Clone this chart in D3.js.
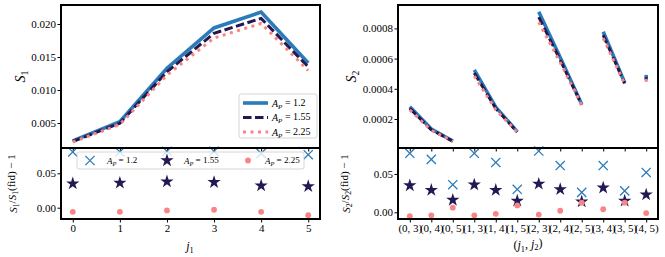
<!DOCTYPE html>
<html>
<head>
<meta charset="utf-8">
<script src="https://cdn.jsdelivr.net/npm/d3@7"></script>
<style>
  body { margin: 0; background: #fff; }
  svg text { font-family: "Liberation Serif", "DejaVu Serif", serif; fill: #000; }
</style>
</head>
<body>
<div id="stage"></div>
<script>
// ---- data ----
var j1_ticks = [0, 1, 2, 3, 4, 5];
var s1_ap120 = [0.00230, 0.00520, 0.01330, 0.01940, 0.02180, 0.01410];
var s1_ap155 = [0.00220, 0.00498, 0.01276, 0.01859, 0.02085, 0.01350];
var s1_ap225 = [0.00212, 0.00478, 0.01225, 0.01788, 0.02008, 0.01295];
var r1_ap120 = [0.081, 0.081, 0.082, 0.082, 0.079, 0.077];
var r1_ap155 = [0.035, 0.036, 0.038, 0.037, 0.032, 0.031];
var r1_ap225 = [-0.006, -0.006, -0.004, -0.003, -0.006, -0.011];

var pair_labels = ["(0, 3)", "(0, 4)", "(0, 5)", "(1, 3)", "(1, 4)", "(1, 5)",
                   "(2, 3)", "(2, 4)", "(2, 5)", "(3, 4)", "(3, 5)", "(4, 5)"];
var pair_j1 = [0, 0, 0, 1, 1, 1, 2, 2, 2, 3, 3, 4];
var s2_ap120 = [0.000281, 0.000134, 0.0000543, 0.000525, 0.000279, 0.000116,
                0.000910, 0.000608, 0.000297, 0.000778, 0.000440, 0.000480];
var s2_ap155 = [0.000270, 0.000129, 0.0000533, 0.000505, 0.000270, 0.000114,
                0.000875, 0.000590, 0.000294, 0.000756, 0.000435, 0.000467];
var s2_ap225 = [0.000260, 0.000125, 0.0000527, 0.000485, 0.000261, 0.000114,
                0.000841, 0.000574, 0.000293, 0.000736, 0.000433, 0.000456];
var r2_ap120 = [0.077, 0.069, 0.036, 0.077, 0.065, 0.030, 0.080, 0.061, 0.026, 0.061, 0.028, 0.052];
var r2_ap155 = [0.035, 0.029, 0.016, 0.036, 0.029, 0.015, 0.037, 0.030, 0.014, 0.032, 0.015, 0.023];
var r2_ap225 = [-0.005, -0.004, 0.006, -0.004, -0.002, 0.009, -0.003, 0.002, 0.0125, 0.004, 0.0125, -0.001];

var ap_labels = ["1.2", "1.55", "2.25"];

var s1_ticks = [0.005, 0.010, 0.015, 0.020];
var s2_ticks = [0.0002, 0.0004, 0.0006, 0.0008];
var ratio_ticks = [0.00, 0.05];

// ---- styles ----
var col_blue = "#2b7bba", col_navy = "#211a52", col_pink = "#fa8484";
var line_styles = [
  { color: col_blue, width: 3.6, dash: null },
  { color: col_navy, width: 3, dash: "8.5,3.5" },
  { color: col_pink, width: 3, dash: "3,4.5" }
];
var font_tick = 11;

var svg = d3.select("#stage").append("svg").attr("width", 665).attr("height", 257);

// panel boxes (pixels)
var L = { x0: 61, x1: 320, top: 5, mid: 148, bot: 219 };
var R = { x0: 398, x1: 658, top: 5, mid: 148, bot: 219 };

// scales
var xL = d3.scaleLinear().domain([-0.25, 5.25]).range([L.x0, L.x1]);
var yL1 = d3.scaleLinear().domain([0.001212, 0.022879]).range([L.mid, L.top]);
var yL2 = d3.scaleLinear().domain([-0.01642, 0.08677]).range([L.bot, L.mid]);
var xR = d3.scaleLinear().domain([-0.55, 11.55]).range([R.x0, R.x1]);
var yR1 = d3.scaleLinear().domain([0.0000079, 0.000955]).range([R.mid, R.top]);
var yR2 = d3.scaleLinear().domain([-0.00875, 0.0839]).range([R.bot, R.mid]);

// mathtext-ish helper: parts = [{t, i, sub}]
function math(text, parts) {
  var shifted = false;
  parts.forEach(function(p) {
    var ts = text.append("tspan").text(p.t);
    if (p.i) ts.style("font-style", "italic");
    if (p.sub && !shifted) { ts.attr("dy", "0.3em"); shifted = true; }
    if (!p.sub && shifted) { ts.attr("dy", "-0.3em"); shifted = false; }
    if (p.sub) ts.attr("font-size", "70%");
  });
}

function style_axis(g, fs) {
  g.select(".domain").remove();
  g.selectAll(".tick line").attr("stroke", "#000").attr("stroke-width", 1);
  g.selectAll(".tick text").attr("font-size", fs).attr("font-family", "Liberation Serif, serif");
}

function cross_path(r) {
  return "M" + (-r) + "," + (-r) + "L" + r + "," + r + "M" + (-r) + "," + r + "L" + r + "," + (-r);
}

// ---------- left top: S1 ----------
var gL = svg.append("g");
var lineL = d3.line().x(function(d) { return xL(d.x); }).y(function(d) { return yL1(d.y); });
[s1_ap120, s1_ap155, s1_ap225].forEach(function(arr, k) {
  var st = line_styles[k];
  gL.append("path")
    .datum(arr.map(function(v, i) { return { x: j1_ticks[i], y: v }; }))
    .attr("d", lineL)
    .attr("fill", "none")
    .attr("stroke", st.color)
    .attr("stroke-width", st.width)
    .attr("stroke-dasharray", st.dash);
});
gL.append("g").attr("transform", "translate(" + L.x0 + ",0)")
  .call(d3.axisLeft(yL1).tickValues(s1_ticks).tickFormat(d3.format(".3f")).tickSize(3.5).tickPadding(1.5))
  .call(style_axis, font_tick);
gL.append("g").attr("transform", "translate(0," + L.mid + ")")
  .call(d3.axisBottom(xL).tickValues(j1_ticks).tickFormat("").tickSize(3.5))
  .call(style_axis, font_tick);

// legend (top left)
var lg1 = svg.append("g");
lg1.append("rect").attr("x", 239).attr("y", 94).attr("width", 78).attr("height", 44).attr("rx", 2)
  .attr("fill", "#fff").attr("fill-opacity", 0.8).attr("stroke", "#ccc").attr("stroke-width", 0.8);
ap_labels.forEach(function(lab, k) {
  var yy = 103 + k * 14.5, st = line_styles[k];
  lg1.append("line").attr("x1", 243).attr("x2", 268).attr("y1", yy).attr("y2", yy)
    .attr("stroke", st.color).attr("stroke-width", st.width).attr("stroke-dasharray", st.dash);
  var t = lg1.append("text").attr("x", 272).attr("y", yy + 3.5).attr("font-size", 10);
  math(t, [{ t: "A", i: true }, { t: "P", i: true, sub: true }, { t: " = " + lab }]);
});

// ---------- left bottom: ratio ----------
var gL2 = svg.append("g");
var starSym = d3.symbol().type(d3.symbolStar).size(55);
function draw_markers(g, xs, ys, arrs, xsc) {
  // crosses
  g.selectAll(".cx").data(arrs[0]).enter().append("path")
    .attr("transform", function(d, i) { return "translate(" + xsc(xs[i]) + "," + ys(d) + ")"; })
    .attr("d", cross_path(4.6)).attr("fill", "none").attr("stroke", col_blue).attr("stroke-width", 1.3);
  g.selectAll(".st").data(arrs[1]).enter().append("path")
    .attr("transform", function(d, i) { return "translate(" + xsc(xs[i]) + "," + ys(d) + ")"; })
    .attr("d", starSym).attr("fill", col_navy);
  g.selectAll(".dt").data(arrs[2]).enter().append("circle")
    .attr("cx", function(d, i) { return xsc(xs[i]); })
    .attr("cy", function(d) { return ys(d); })
    .attr("r", 2.9).attr("fill", col_pink);
}
draw_markers(gL2, j1_ticks, yL2, [r1_ap120, r1_ap155, r1_ap225], xL);
gL2.append("g").attr("transform", "translate(" + L.x0 + ",0)")
  .call(d3.axisLeft(yL2).tickValues(ratio_ticks).tickFormat(d3.format(".2f")).tickSize(3.5).tickPadding(1.5))
  .call(style_axis, font_tick);
gL2.append("g").attr("transform", "translate(0," + L.bot + ")")
  .call(d3.axisBottom(xL).tickValues(j1_ticks).tickFormat(d3.format("d")).tickSize(3.5).tickPadding(2))
  .call(style_axis, font_tick);

// legend (bottom left)
var lg2 = svg.append("g");
lg2.append("rect").attr("x", 77).attr("y", 152).attr("width", 227).attr("height", 17).attr("rx", 2)
  .attr("fill", "#fff").attr("fill-opacity", 0.8).attr("stroke", "#ccc").attr("stroke-width", 0.8);
var lg2_x = [90, 167, 248];
ap_labels.forEach(function(lab, k) {
  var mx = lg2_x[k], my = 160.5;
  if (k === 0) lg2.append("path").attr("transform", "translate(" + mx + "," + my + ")")
    .attr("d", cross_path(4.6)).attr("fill", "none").attr("stroke", col_blue).attr("stroke-width", 1.3);
  if (k === 1) lg2.append("path").attr("transform", "translate(" + mx + "," + my + ")")
    .attr("d", starSym).attr("fill", col_navy);
  if (k === 2) lg2.append("circle").attr("cx", mx).attr("cy", my).attr("r", 2.9).attr("fill", col_pink);
  var t = lg2.append("text").attr("x", mx + 17).attr("y", my + 3.2).attr("font-size", 9);
  math(t, [{ t: "A", i: true }, { t: "P", i: true, sub: true }, { t: " = " + lab }]);
});

// ---------- right top: S2 ----------
var gR = svg.append("g");
var lineR = d3.line().x(function(d) { return xR(d.x); }).y(function(d) { return yR1(d.y); });
var groups = d3.groups(d3.range(pair_j1.length), function(i) { return pair_j1[i]; });
[s2_ap120, s2_ap155, s2_ap225].forEach(function(arr, k) {
  var st = line_styles[k];
  groups.forEach(function(gr) {
    var pts = gr[1].map(function(i) { return { x: i, y: arr[i] }; });
    gR.append("path")
      .datum(pts)
      .attr("d", lineR)
      .attr("fill", "none")
      .attr("stroke", st.color)
      .attr("stroke-width", st.width)
      .attr("stroke-linecap", pts.length === 1 ? "square" : "butt")
      .attr("stroke-dasharray", pts.length === 1 ? null : st.dash);
  });
});
gR.append("g").attr("transform", "translate(" + R.x0 + ",0)")
  .call(d3.axisLeft(yR1).tickValues(s2_ticks).tickFormat(d3.format(".4f")).tickSize(3.5).tickPadding(1.5))
  .call(style_axis, font_tick);
gR.append("g").attr("transform", "translate(0," + R.mid + ")")
  .call(d3.axisBottom(xR).tickValues(d3.range(pair_labels.length)).tickFormat("").tickSize(3.5))
  .call(style_axis, font_tick);

// ---------- right bottom: ratio ----------
var gR2 = svg.append("g");
draw_markers(gR2, d3.range(pair_labels.length), yR2, [r2_ap120, r2_ap155, r2_ap225], xR);
gR2.append("g").attr("transform", "translate(" + R.x0 + ",0)")
  .call(d3.axisLeft(yR2).tickValues(ratio_ticks).tickFormat(d3.format(".2f")).tickSize(3.5).tickPadding(1.5))
  .call(style_axis, font_tick);
gR2.append("g").attr("transform", "translate(0," + R.bot + ")")
  .call(d3.axisBottom(xR).tickValues(d3.range(pair_labels.length))
    .tickFormat(function(i) { return pair_labels[i]; }).tickSize(3.5).tickPadding(2))
  .call(style_axis, font_tick);

// ---------- frames ----------
[L, R].forEach(function(b) {
  [[b.top, b.mid], [b.mid, b.bot]].forEach(function(yy) {
    svg.append("rect").attr("x", b.x0).attr("y", yy[0]).attr("width", b.x1 - b.x0).attr("height", yy[1] - yy[0])
      .attr("fill", "none").attr("stroke", "#000").attr("stroke-width", 2);
  });
});

// ---------- axis labels ----------
function ylabel(x, y, fs, parts) {
  var t = svg.append("text").attr("transform", "translate(" + x + "," + y + ") rotate(-90)")
    .attr("text-anchor", "middle").attr("font-size", fs);
  math(t, parts);
}
ylabel(25, 76.5, 14, [{ t: "S", i: true }, { t: "1", sub: true }]);
ylabel(16.5, 183.5, 11, [{ t: "S", i: true }, { t: "1", sub: true }, { t: "/" }, { t: "S", i: true },
  { t: "1", sub: true }, { t: "(fid) \u2212 1" }]);
ylabel(356, 76.5, 14, [{ t: "S", i: true }, { t: "2", sub: true }]);
ylabel(349.5, 183.5, 11, [{ t: "S", i: true }, { t: "2", sub: true }, { t: "/" }, { t: "S", i: true },
  { t: "2", sub: true }, { t: "(fid) \u2212 1" }]);

var xl1 = svg.append("text").attr("x", 190).attr("y", 250).attr("text-anchor", "middle").attr("font-size", 12);
math(xl1, [{ t: "j", i: true }, { t: "1", sub: true }]);
var xl2 = svg.append("text").attr("x", 528).attr("y", 249).attr("text-anchor", "middle").attr("font-size", 12);
math(xl2, [{ t: "(" }, { t: "j", i: true }, { t: "1", sub: true }, { t: ", " }, { t: "j", i: true },
  { t: "2", sub: true }, { t: ")" }]);
</script>
</body>
</html>
